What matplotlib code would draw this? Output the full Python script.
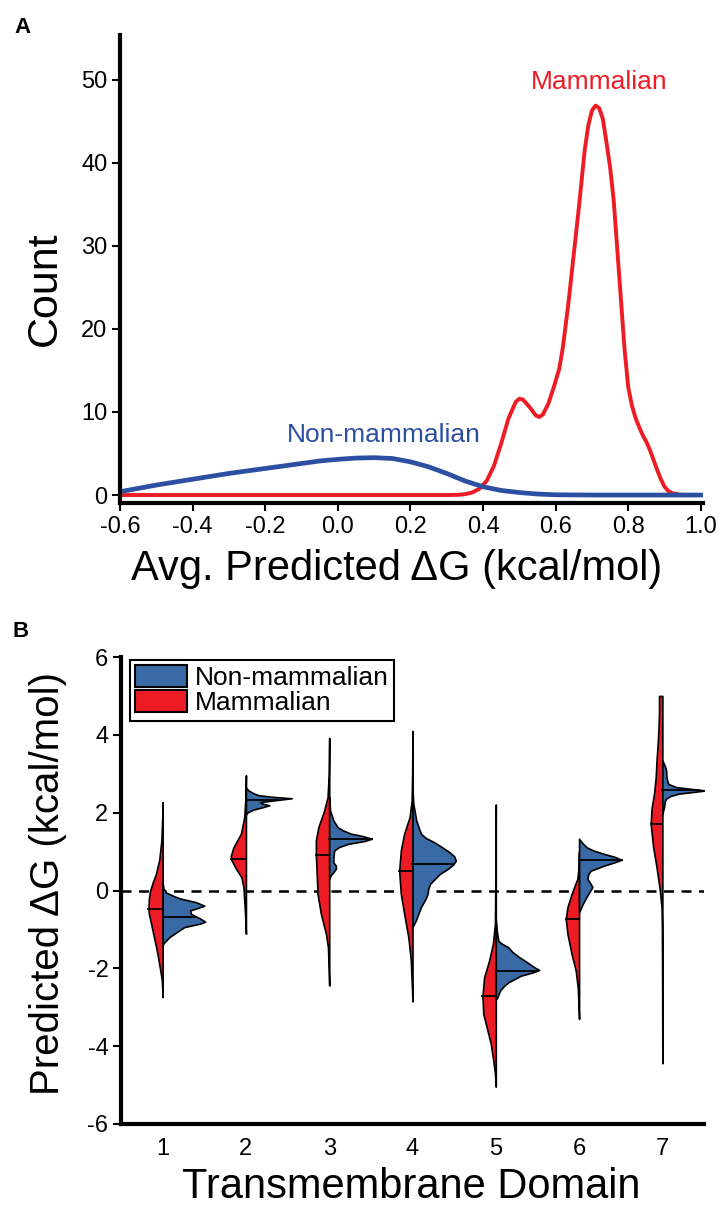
import numpy as np
import matplotlib
matplotlib.use("Agg")
import matplotlib.pyplot as plt
from matplotlib.patches import Patch

plt.rcParams['font.family'] = ['Liberation Sans', 'DejaVu Sans']
plt.rcParams['axes.unicode_minus'] = False

RED = '#ED1C24'
BLUE_LINE = '#2D4FA2'
BLUE = '#3A6AA5'

# ---- panel A: smoothed counts ----
non_x = [-0.6, -0.5, -0.4, -0.3, -0.2, -0.1, -0.05, 0.0, 0.05, 0.1, 0.15, 0.2, 0.25,
         0.3, 0.35, 0.4, 0.45, 0.5, 0.55, 0.6, 0.7, 0.8, 0.9, 1.0]
non_y = [0.4, 1.2, 1.9, 2.6, 3.2, 3.8, 4.1, 4.3, 4.45, 4.5, 4.4, 4.0, 3.4,
         2.6, 1.7, 1.0, 0.55, 0.3, 0.12, 0.03, 0.0, 0.0, 0.0, 0.0]

mam_x = [-0.6, 0.30, 0.33, 0.35, 0.37, 0.39, 0.41, 0.43, 0.45, 0.47, 0.49, 0.50,
         0.51, 0.53, 0.545, 0.555, 0.565, 0.58, 0.595, 0.61, 0.62, 0.635, 0.65,
         0.665, 0.68, 0.69, 0.70, 0.71, 0.72, 0.73, 0.74, 0.75, 0.76, 0.77, 0.78,
         0.79, 0.80, 0.81, 0.82, 0.83, 0.84, 0.85, 0.86, 0.87, 0.88, 0.89, 0.90,
         0.91, 0.92, 0.94, 0.96, 1.0]
mam_y = [0, 0, 0.02, 0.1, 0.3, 0.75, 1.7, 3.5, 6.2, 9.2, 11.2, 11.6,
         11.5, 10.5, 9.6, 9.4, 9.7, 11.0, 13.0, 15.2, 17.8, 23, 29,
         35, 41.5, 44.5, 46.3, 46.9, 46.6, 45.3, 42.5, 39.5, 35.5, 29.5, 23.5,
         17.5, 13.0, 10.8, 9.3, 8.2, 7.2, 6.4, 5.4, 4.2, 3.0, 1.9, 1.0,
         0.5, 0.25, 0.05, 0.0, 0.0]

# ---- panel B: half-violin profiles (level, half width) per domain ----
domains = [1, 2, 3, 4, 5, 6, 7]

mam_levels = [
    [-2.74, -2.3, -1.97, -1.54, -0.94, -0.6, -0.47, -0.2, 0.0, 0.2, 0.43, 0.8, 1.29, 1.8, 2.27],
    [-1.11, -0.6, 0.09, 0.34, 0.6, 0.81, 0.9, 1.11, 1.46, 1.89, 2.4, 2.96],
    [-2.44, -1.9, -1.46, -1.11, -0.6, -0.09, 0.43, 0.9, 1.29, 1.63, 2.06, 2.4, 3.0, 3.92],
    [-2.85, -1.8, -1.2, -0.6, -0.09, 0.5, 1.03, 1.46, 1.89, 2.31, 3.0, 4.1],
    [-5.04, -4.7, -4.37, -3.94, -3.51, -3.17, -2.72, -2.23, -1.8, -1.37, -0.86, 0.5, 2.21],
    [-3.3, -2.5, -2.06, -1.63, -1.11, -0.73, -0.43, -0.09, 0.17, 0.3, 0.6, 1.0],
    [-4.44, -2.0, -0.8, -0.43, 0.0, 0.6, 1.11, 1.7, 2.1, 2.49, 2.9, 3.34, 3.8, 4.2, 4.6, 5.0],
]
mam_widths = [
    [0.0, 0.01, 0.035, 0.07, 0.13, 0.165, 0.17, 0.165, 0.15, 0.12, 0.08, 0.04, 0.015, 0.006, 0.0],
    [0.0, 0.01, 0.03, 0.055, 0.13, 0.18, 0.18, 0.15, 0.06, 0.02, 0.005, 0.0],
    [0.0, 0.008, 0.015, 0.04, 0.1, 0.14, 0.15, 0.16, 0.16, 0.13, 0.06, 0.02, 0.005, 0.0],
    [0.0, 0.02, 0.05, 0.1, 0.14, 0.16, 0.14, 0.1, 0.035, 0.01, 0.004, 0.0],
    [0.0, 0.01, 0.03, 0.06, 0.11, 0.15, 0.16, 0.14, 0.08, 0.035, 0.01, 0.004, 0.0],
    [0.0, 0.015, 0.04, 0.09, 0.14, 0.16, 0.14, 0.09, 0.045, 0.02, 0.006, 0.0],
    [0.0, 0.003, 0.006, 0.01, 0.03, 0.07, 0.11, 0.14, 0.13, 0.1, 0.08, 0.07, 0.055, 0.045, 0.04, 0.04],
]
mam_medians = [-0.47, 0.81, 0.9, 0.5, -2.72, -0.73, 1.7]

non_levels = [
    [-1.4, -1.33, -1.2, -1.11, -0.94, -0.85, -0.8, -0.72, -0.6, -0.51, -0.45, -0.39, -0.3, -0.2, -0.13, -0.05, 0.05, 0.2],
    [1.95, 2.01, 2.08, 2.14, 2.19, 2.23, 2.27, 2.32, 2.37, 2.41, 2.45, 2.49, 2.57, 2.65],
    [0.3, 0.4, 0.47, 0.56, 0.64, 0.72, 0.85, 1.03, 1.12, 1.2, 1.27, 1.33, 1.4, 1.46, 1.55, 1.63, 1.8, 2.06, 2.4],
    [-0.94, -0.77, -0.43, -0.2, -0.09, 0.05, 0.17, 0.3, 0.43, 0.55, 0.67, 0.77, 0.88, 0.99, 1.12, 1.24, 1.35, 1.46, 1.8, 2.23, 2.6],
    [-2.8, -2.74, -2.57, -2.45, -2.36, -2.19, -2.1, -2.04, -1.97, -1.85, -1.71, -1.58, -1.46, -1.35, -1.29, -1.0, -0.77],
    [-0.55, -0.51, -0.34, -0.2, -0.09, 0.09, 0.2, 0.3, 0.42, 0.51, 0.64, 0.72, 0.79, 0.87, 0.94, 1.03, 1.11, 1.24, 1.33],
    [1.97, 2.14, 2.3, 2.36, 2.43, 2.49, 2.54, 2.57, 2.61, 2.66, 2.74, 2.9, 3.09, 3.2, 3.34],
]
non_widths = [
    [0.0, 0.02, 0.08, 0.14, 0.26, 0.45, 0.51, 0.45, 0.34, 0.33, 0.42, 0.5, 0.4, 0.2, 0.12, 0.04, 0.01, 0.0],
    [0.0, 0.02, 0.09, 0.2, 0.28, 0.2, 0.17, 0.35, 0.55, 0.3, 0.15, 0.1, 0.03, 0.0],
    [0.0, 0.02, 0.05, 0.08, 0.08, 0.05, 0.05, 0.06, 0.12, 0.23, 0.42, 0.51, 0.4, 0.26, 0.16, 0.1, 0.05, 0.01, 0.0],
    [0.0, 0.04, 0.1, 0.16, 0.18, 0.19, 0.21, 0.27, 0.33, 0.42, 0.49, 0.52, 0.5, 0.44, 0.35, 0.26, 0.16, 0.1, 0.045, 0.01, 0.0],
    [0.0, 0.02, 0.05, 0.1, 0.15, 0.3, 0.45, 0.52, 0.46, 0.38, 0.28, 0.2, 0.15, 0.06, 0.03, 0.01, 0.0],
    [0.0, 0.01, 0.045, 0.08, 0.11, 0.16, 0.13, 0.1, 0.11, 0.14, 0.3, 0.42, 0.51, 0.42, 0.3, 0.17, 0.09, 0.03, 0.0],
    [0.0, 0.02, 0.03, 0.045, 0.1, 0.2, 0.4, 0.52, 0.35, 0.16, 0.07, 0.05, 0.045, 0.03, 0.0],
]
non_medians = [-0.67, 2.33, 1.33, 0.67, -2.06, 0.79, 2.59]

fig = plt.figure(figsize=(7.23, 12.05), dpi=100)
W, H = 723.0, 1205.0

# ---------------- panel A ----------------
axA = fig.add_axes([120 / W, 1 - 503 / H, 583 / W, 468 / H])
axA.plot(mam_x, mam_y, color=RED, lw=2.8, solid_joinstyle='round')
axA.plot(non_x, non_y, color=BLUE_LINE, lw=3.4, solid_joinstyle='round')
axA.set_xlim(-0.6, 1.006)
axA.set_ylim(-0.96, 55.4)
axA.set_xticks(np.arange(-0.6, 1.01, 0.2))
axA.set_xticklabels(['%.1f' % v for v in np.arange(-0.6, 1.01, 0.2)])
axA.set_yticks(range(0, 51, 10))
axA.text(0.719, 49.8, 'Mammalian', color=RED, fontsize=19, ha='center', va='center')
axA.text(0.126, 7.2, 'Non-mammalian', color=BLUE_LINE, fontsize=19, ha='center', va='center')
axA.set_xlabel('Avg. Predicted \u0394G (kcal/mol)', fontsize=30)
axA.xaxis.set_label_coords(0.475, -0.1645)
axA.xaxis.label.set_va('baseline')
axA.set_ylabel('Count', fontsize=31)
axA.yaxis.set_label_coords(-0.1286, 0.457)
axA.yaxis.label.set_va('center')

# ---------------- panel B ----------------
axB = fig.add_axes([121 / W, 1 - 1124 / H, 583 / W, 467 / H])
axB.axhline(0, color='black', lw=1.8, ls=(0, (4, 3)), zorder=1)
for pos, ly, lw_, med in zip(domains, mam_levels, mam_widths, mam_medians):
    ly = np.array(ly)
    lw_ = np.array(lw_)
    axB.fill_betweenx(ly, pos - lw_, pos, facecolor=RED, edgecolor='black', lw=1.2, zorder=2)
    axB.plot([pos - np.interp(med, ly, lw_), pos], [med, med], color='black', lw=1.3, zorder=3)
for pos, ly, lw_, med in zip(domains, non_levels, non_widths, non_medians):
    ly = np.array(ly)
    lw_ = np.array(lw_)
    axB.fill_betweenx(ly, pos, pos + lw_, facecolor=BLUE, edgecolor='black', lw=1.2, zorder=2)
    axB.plot([pos, pos + np.interp(med, ly, lw_)], [med, med], color='black', lw=1.3, zorder=3)
axB.set_xlim(0.5, 7.5)
axB.set_ylim(-6, 6)
axB.set_xticks(domains)
axB.set_yticks(range(-6, 7, 2))
axB.set_xlabel('Transmembrane Domain', fontsize=30)
axB.xaxis.set_label_coords(0.497, -0.158)
axB.xaxis.label.set_va('baseline')
axB.set_ylabel('Predicted \u0394G (kcal/mol)', fontsize=29)
axB.yaxis.set_label_coords(-0.125, 0.516)
axB.yaxis.label.set_va('center')

handles = [Patch(facecolor=BLUE, edgecolor='black', lw=1.5, label='Non-mammalian'),
           Patch(facecolor=RED, edgecolor='black', lw=1.5, label='Mammalian')]
leg = axB.legend(handles=handles, loc='upper left', bbox_to_anchor=(0.0154, 0.9936),
                 borderaxespad=0, fontsize=19, handlelength=1.97, handleheight=0.9,
                 handletextpad=0.3, labelspacing=0.0, borderpad=0.2,
                 fancybox=False, framealpha=1)
leg.get_frame().set_edgecolor('black')
leg.get_frame().set_linewidth(1.5)

for ax in (axA, axB):
    for s in ('top', 'right'):
        ax.spines[s].set_visible(False)
    for s in ('left', 'bottom'):
        ax.spines[s].set_linewidth(3)
    ax.tick_params(direction='out', length=6, width=1.5, labelsize=17, pad=3)
axB.tick_params(axis='x', length=0, pad=10)

fig.text(14 / W, 1 - 33 / H, 'A', fontsize=16, fontweight='bold', va='baseline')
fig.text(13 / W, 1 - 637 / H, 'B', fontsize=16, fontweight='bold', va='baseline')

fig.savefig('out.png', dpi=100)
